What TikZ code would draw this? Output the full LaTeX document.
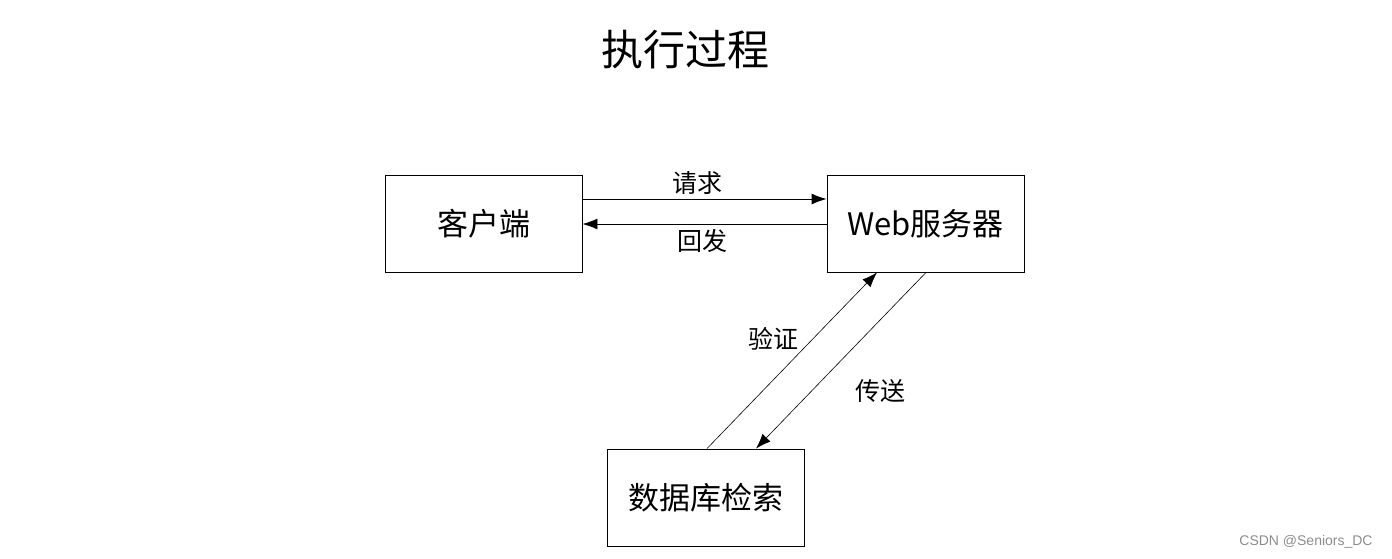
\documentclass[tikz,border=0pt]{standalone}
\usepackage{fontspec}
\newfontfamily\cjk{Noto Sans CJK SC}
\usetikzlibrary{arrows.meta}
\usetikzlibrary{positioning}

\begin{document}
\begin{tikzpicture}[x=1pt, y=1pt, line width=0.9pt,
    >={Latex[length=15pt,width=11pt]},
    box/.style={draw, minimum width=197pt, minimum height=97pt, inner sep=0pt,
        font=\cjk\fontsize{31}{36}\selectfont},
    lbl/.style={font=\cjk\fontsize{25}{30}\selectfont, inner sep=0pt}]

    \useasboundingbox (0,0) rectangle (1392,-558);

    % Title
    \node[font=\cjk\fontsize{42}{50}\selectfont] (title) at (685,-50) {执行过程};

    % Boxes
    \node[box] (client) at (483.5,-223.5) {客户端};
    \node[box] (web)    at (925.5,-223.5) {Web服务器};
    \node[box] (db)     at (705.5,-497.5) {数据库检索};

    % Client <-> Web
    \draw[->] ([yshift=24.5pt]client.east) -- ([yshift=24.5pt]web.west)
        node[lbl, pos=0.47, above=4pt] (req) {请求};
    \draw[->] ([yshift=-0.5pt]web.west) -- ([yshift=-0.5pt]client.east)
        node[lbl, pos=0.51, below=5pt] (resp) {回发};

    % Web <-> database
    \draw[->, line width=0.6pt] ([xshift=1.5pt]db.north) -- ([xshift=-48.5pt]web.south);
    \draw[->, line width=0.6pt] ([xshift=0.5pt]web.south) -- ([xshift=50.5pt]db.north);
    \node[lbl] (check) at (773,-339) {验证};
    \node[lbl] (send)  at (880,-391) {传送};

    % Watermark
    \node[font=\fontspec{Liberation Sans}\fontsize{14}{16}\selectfont, text=black!45]
        (mark) at (1306,-542) {CSDN @Seniors\_DC};

\end{tikzpicture}
\end{document}
